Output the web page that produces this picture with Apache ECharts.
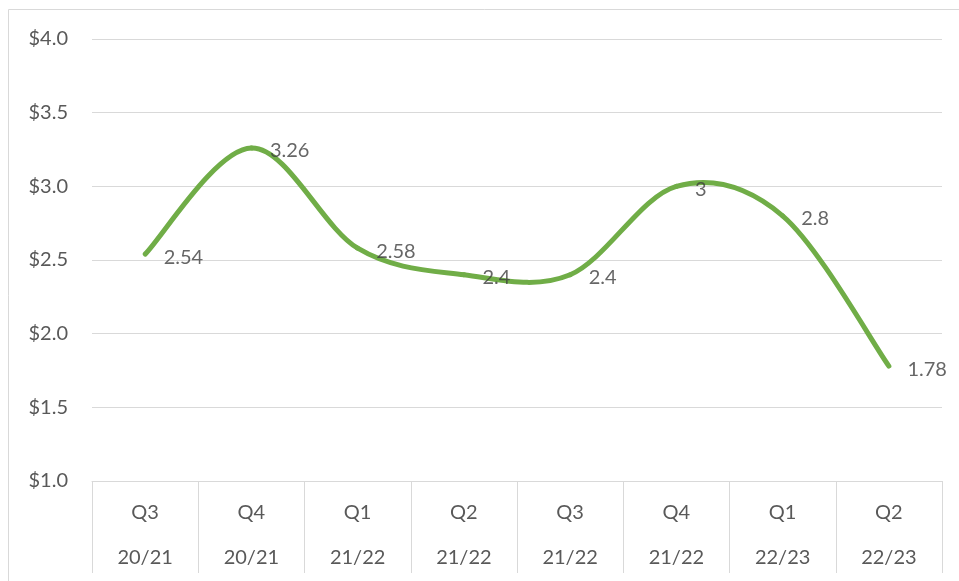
<!DOCTYPE html>
<html lang="en">
<head>
    <meta charset="UTF-8">
    <title>Quarterly value</title>
    <style type="text/css">
        html, body { margin: 0; padding: 0; background: #fff; }
        #chart { width: 959px; height: 581px; }
    </style>
</head>
<body>
<div id="chart"></div>
<script src="https://cdn.jsdelivr.net/npm/echarts@6/dist/echarts.min.js"></script>
<script>
    // chart data
    var quarters = ['Q3', 'Q4', 'Q1', 'Q2', 'Q3', 'Q4', 'Q1', 'Q2'];
    var years = ['20/21', '20/21', '21/22', '21/22', '21/22', '21/22', '22/23', '22/23'];
    var values = [2.54, 3.26, 2.58, 2.4, 2.4, 3, 2.8, 1.78];

    var categories = quarters.map(function (q, i) { return q + '\n' + years[i]; });

    var myChart = echarts.init(document.getElementById('chart'));
    var font = 'Lato, "Open Sans", sans-serif';

    // excel-style smoothed segment (bezier with neighbour tangents)
    function renderSegment(params, api) {
        var i = params.dataIndex;
        if (i >= values.length - 1) return null;
        var pt = function (k) {
            k = Math.max(0, Math.min(values.length - 1, k));
            return api.coord([k, values[k]]);
        };
        var p0 = pt(i - 1), p1 = pt(i), p2 = pt(i + 1), p3 = pt(i + 2);
        var t = 1 / 6;
        var c1 = [p1[0] + (p2[0] - p0[0]) * t, p1[1] + (p2[1] - p0[1]) * t];
        var c2 = [p2[0] - (p3[0] - p1[0]) * t, p2[1] - (p3[1] - p1[1]) * t];
        return {
            type: 'bezierCurve',
            shape: {
                x1: p1[0], y1: p1[1], x2: p2[0], y2: p2[1],
                cpx1: c1[0], cpy1: c1[1], cpx2: c2[0], cpy2: c2[1]
            },
            style: { stroke: '#70ad47', lineWidth: 5, fill: null, lineCap: 'round' },
            silent: true
        };
    }

    var option = {
        animation: false,
        textStyle: { fontFamily: font },
        graphic: [{
            type: 'rect',
            shape: { x: 8.5, y: 9.5, width: 960, height: 600 },
            style: { fill: 'none', stroke: '#d9d9d9', lineWidth: 1 },
            silent: true
        }],
        grid: { left: 92, right: 17, top: 39, bottom: 100 },
        xAxis: {
            type: 'category',
            data: categories,
            boundaryGap: true,
            axisLine: { lineStyle: { color: '#d9d9d9', width: 1 } },
            axisTick: { show: true, length: 92, lineStyle: { color: '#d9d9d9', width: 1 } },
            axisLabel: {
                color: '#595959',
                fontSize: 20,
                fontFamily: font,
                lineHeight: 45,
                margin: 9,
                interval: 0
            }
        },
        yAxis: {
            type: 'value',
            min: 1,
            max: 4,
            interval: 0.5,
            axisLine: { show: false },
            axisTick: { show: false },
            splitLine: { lineStyle: { color: '#d9d9d9', width: 1 } },
            axisLabel: {
                color: '#595959',
                fontSize: 20,
                fontFamily: font,
                margin: 24,
                formatter: function (v) { return '$' + v.toFixed(1); }
            }
        },
        series: [{
            type: 'custom',
            renderItem: renderSegment,
            data: values.map(function (v, i) { return [i, v]; }),
            encode: { x: 0, y: 1 },
            z: 2
        }, {
            type: 'scatter',
            data: values,
            symbolSize: 1,
            itemStyle: { color: 'rgba(0,0,0,0)' },
            z: 3,
            label: {
                show: true,
                position: 'right',
                distance: 18,
                color: '#404040',
                fontSize: 20,
                fontFamily: font,
                offset: [0, 3]
            }
        }]
    };
    myChart.setOption(option);
</script>
</body>
</html>
